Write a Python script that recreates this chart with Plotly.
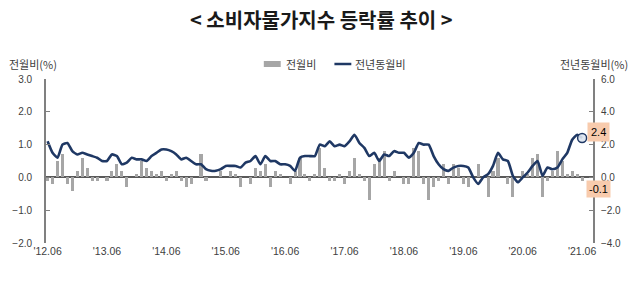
import plotly.graph_objects as go

# ---- data ----
years_months = []
y, m = 2012, 6
while (y, m) <= (2021, 6):
    years_months.append(f"{y}.{m:02d}")
    m += 1
    if m > 12:
        y, m = y + 1, 1

# 전월비 (month-over-month, %)
mom = [
    -0.1, -0.2, 0.5, 0.7, -0.2, -0.4, 0.2,                      # 2012.06-12
    0.6, 0.3, -0.1, -0.1, 0.0, -0.1, 0.2, 0.4, 0.2, -0.3, 0.0, 0.1,   # 2013
    0.5, 0.3, 0.2, 0.1, 0.2, -0.1, 0.1, 0.2, -0.1, -0.3, -0.2, 0.0,   # 2014
    0.7, -0.1, 0.0, 0.0, 0.2, 0.0, 0.2, 0.1, -0.3, 0.0, -0.2, 0.3,    # 2015
    0.2, 0.4, -0.3, 0.2, 0.1, 0.0, -0.2, 0.2, 0.6, 0.1, -0.1, 0.1,    # 2016
    0.9, 0.3, -0.1, -0.1, 0.1, -0.2, 0.2, 0.6, 0.1, -0.1, -0.7, 0.4,  # 2017
    0.6, 0.8, -0.1, 0.2, 0.0, -0.2, -0.2, 0.9, 0.8, -0.2, -0.7, -0.3, # 2018
    -0.1, 0.4, -0.2, 0.4, 0.3, -0.2, -0.3, 0.0, 0.4, 0.0, -0.6, 0.2,  # 2019
    0.6, 0.0, -0.2, -0.6, 0.0, 0.2, 0.1, 0.6, 0.7, -0.6, -0.1, 0.2,   # 2020
    0.8, 0.5, 0.1, 0.2, 0.1, -0.1,                               # 2021.01-06
]

# 전년동월비 (year-over-year, %)
yoy = [
    2.2, 1.5, 1.2, 2.0, 2.1, 1.6, 1.4,
    1.5, 1.4, 1.3, 1.2, 1.0, 1.0, 1.4, 1.3, 0.8, 0.9, 1.2, 1.1,
    1.1, 1.0, 1.3, 1.5, 1.7, 1.7, 1.6, 1.4, 1.1, 1.2, 1.0, 0.8,
    0.8, 0.5, 0.4, 0.4, 0.5, 0.7, 0.7, 0.7, 0.6, 0.9, 1.0, 1.3,
    0.8, 1.3, 1.0, 1.0, 0.8, 0.8, 0.7, 0.4, 1.2, 1.3, 1.3, 1.3,
    2.0, 1.9, 2.2, 1.9, 2.0, 1.9, 2.2, 2.6, 2.1, 1.8, 1.3, 1.5,
    1.0, 1.4, 1.3, 1.6, 1.5, 1.5, 1.2, 1.5, 2.1, 2.0, 2.0, 1.3,
    0.8, 0.5, 0.4, 0.6, 0.7, 0.7, 0.6, 0.0, -0.4, 0.0, 0.2, 0.7,
    1.5, 1.1, 1.0, 0.1, -0.3, 0.0, 0.3, 0.7, 1.0, 0.1, 0.6, 0.5,
    0.6, 1.1, 1.5, 2.3, 2.6, 2.4,
]

tick_labels = ["'12.06", "'13.06", "'14.06", "'15.06", "'16.06",
               "'17.06", "'18.06", "'19.06", "'20.06", "'21.06"]

x = list(range(len(years_months)))
tick_pos = [years_months.index(f"20{t[1:3]}.06") for t in tick_labels]

BAR = "#A6A6A6"
NAVY = "#1F3864"
AXIS = "#808080"
TXT = "#404040"
KFONT = "Noto Sans CJK KR"
NFONT = "Liberation Sans, Arial, sans-serif"

W, H = 640, 286
ML, MR, MT, MB = 43, 47, 79, 43
PW, PH = W - ML - MR, H - MT - MB


def px(xp):
    return (xp - ML) / PW


def py(yp):
    return (H - MB - yp) / PH


fig = go.Figure()
fig.add_bar(x=x, y=mom, marker=dict(color=BAR, line=dict(width=0)),
            width=0.62, yaxis="y", showlegend=False, name="전월비")
fig.add_scatter(x=x, y=yoy, yaxis="y2", mode="lines", name="전년동월비",
                line=dict(color=NAVY, width=2.6, shape="spline", smoothing=0.5),
                showlegend=False)
fig.add_scatter(x=[x[-1]], y=[yoy[-1]], yaxis="y2", mode="markers",
                marker=dict(symbol="circle", size=9, color="rgba(220,228,240,0.9)",
                            line=dict(color=NAVY, width=1.5)),
                showlegend=False, hoverinfo="skip")

# value labels at the end
fig.add_annotation(x=x[-1], y=yoy[-1], yref="y2", xref="x", text="2.4",
                   showarrow=False, xshift=16, yshift=6,
                   xanchor="center", yanchor="middle",
                   bgcolor="#F8CBAD", borderpad=3,
                   font=dict(family=NFONT, size=11, color="#000000"))
fig.add_annotation(x=x[-1], y=mom[-1], yref="y", xref="x", text="-0.1",
                   showarrow=False, xshift=16, yshift=-8,
                   xanchor="center", yanchor="middle",
                   bgcolor="#F8CBAD", borderpad=2,
                   font=dict(family=NFONT, size=11, color="#000000"))

# title
fig.add_annotation(xref="paper", yref="paper", x=px(320), y=py(20),
                   xanchor="center", yanchor="middle",
                   text="< 소비자물가지수 등락률 추이 >", showarrow=False,
                   font=dict(family=KFONT, size=20, color="#1a1a1a", weight=700))

# axis titles
fig.add_annotation(xref="paper", yref="paper", x=px(30), y=py(64),
                   xanchor="center", yanchor="middle",
                   text="전월비(%)", showarrow=False,
                   font=dict(family=KFONT, size=11, color=TXT))
fig.add_annotation(xref="paper", yref="paper", x=px(594), y=py(64),
                   xanchor="center", yanchor="middle",
                   text="전년동월비(%)", showarrow=False,
                   font=dict(family=KFONT, size=11, color=TXT))

# custom legend
fig.add_shape(type="rect", xref="paper", yref="paper",
              x0=px(262), x1=px(279), y0=py(67), y1=py(61),
              fillcolor=BAR, line=dict(width=0))
fig.add_annotation(xref="paper", yref="paper", x=px(282), y=py(64),
                   xanchor="left", yanchor="middle", text="전월비", showarrow=False,
                   font=dict(family=KFONT, size=11, color=TXT))
fig.add_shape(type="line", xref="paper", yref="paper",
              x0=px(333), x1=px(350), y0=py(64), y1=py(64),
              line=dict(color=NAVY, width=2.5))
fig.add_annotation(xref="paper", yref="paper", x=px(352), y=py(64),
                   xanchor="left", yanchor="middle", text="전년동월비", showarrow=False,
                   font=dict(family=KFONT, size=11, color=TXT))

axis_common = dict(showgrid=False, ticks="inside", ticklen=4, tickwidth=1.2,
                   tickcolor=AXIS, showline=True, linecolor=AXIS, linewidth=1.8,
                   tickformat=".1f",
                   tickfont=dict(family=NFONT, size=10, color=TXT))

fig.update_layout(
    width=W, height=H,
    margin=dict(l=ML, r=MR, t=MT, b=MB, pad=0),
    paper_bgcolor="white", plot_bgcolor="white",
    bargap=0,
    xaxis=dict(range=[-0.32, 110.2], tickmode="array", tickvals=tick_pos,
               ticktext=tick_labels, showgrid=False, zeroline=False,
               showline=False, ticks="",
               tickfont=dict(family=NFONT, size=10.5, color=TXT)),
    yaxis=dict(range=[-2, 3], dtick=1, zeroline=True, zerolinecolor="#595959",
               zerolinewidth=1.5, ticklabelstandoff=10, **axis_common),
    yaxis2=dict(range=[-4, 6], dtick=2, overlaying="y", side="right",
                zeroline=False, ticklabelstandoff=4, **axis_common),
    showlegend=False,
)

fig.write_html("out.html")
